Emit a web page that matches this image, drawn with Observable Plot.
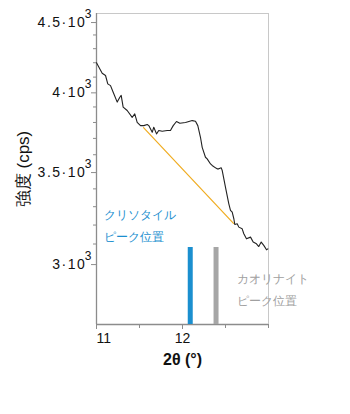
<!DOCTYPE html>
<html><head><meta charset="utf-8">
<script src="https://cdn.jsdelivr.net/npm/d3@7"></script>
<script src="https://cdn.jsdelivr.net/npm/@observablehq/plot@0.6"></script>
<style>
body{margin:0;background:#fff;}
#chart svg{font-family:"Liberation Sans",Arial,sans-serif;}
</style>
</head><body><div id="chart"></div>
<script>
// 2θ (°) and intensity (cps)
const twoTheta = [11.0, 11.066, 11.105, 11.131, 11.163, 11.194, 11.241, 11.271, 11.287, 11.31, 11.357, 11.415, 11.445, 11.473, 11.512, 11.55, 11.59, 11.608, 11.648, 11.666, 11.698, 11.724, 11.764, 11.822, 11.86, 11.892, 11.93, 11.969, 12.035, 12.113, 12.151, 12.178, 12.209, 12.229, 12.267, 12.287, 12.326, 12.345, 12.384, 12.403, 12.422, 12.45, 12.462, 12.5, 12.538, 12.558, 12.578, 12.597, 12.608, 12.636, 12.655, 12.694, 12.713, 12.744, 12.791, 12.822, 12.86, 12.887, 12.915, 12.945, 12.977, 12.992];
const intensity = [4200, 4127, 4111, 4054, 4042, 3997, 3932, 3964, 3976, 3899, 3877, 3833, 3855, 3801, 3780, 3780, 3787, 3780, 3738, 3770, 3728, 3749, 3745, 3749, 3749, 3780, 3806, 3795, 3800, 3812, 3808, 3780, 3707, 3645, 3585, 3575, 3545, 3536, 3522, 3516, 3516, 3522, 3506, 3409, 3317, 3280, 3270, 3234, 3203, 3207, 3189, 3180, 3154, 3127, 3136, 3110, 3101, 3087, 3110, 3093, 3070, 3075];
// baseline (orange)
const baselineX = [11.547, 12.593];
const baselineY = [3767, 3209];
// reference peak positions
const peakNames = ["クリソタイル", "カオリナイト"];
const peakX = [12.09, 12.39];
const peakTop = [3082, 3082];
// axes
const yDomain = [2709, 4561];
const xDomain = [11, 13];
const yTicks = [3000, 3500, 4000, 4500];
const yTickLabels = ["3·10³", "3.5·10³", "4·10³", "4.5·10³"];
const yMinorTicks = [3100, 3200, 3300, 3400, 3600, 3700, 3800, 3900, 4100, 4200, 4300, 4400];
const xTicks = [11, 12];
const xMinorTicks = [11.5, 12.5, 13];

const spectrum = twoTheta.map((x, i) => ({x, y: intensity[i]}));
const baseline = baselineX.map((x, i) => ({x, y: baselineY[i]}));
const peaks = peakX.map((x, i) => ({name: peakNames[i], x, top: peakTop[i]}));
const peakColors = ["#1b8fcf", "#a6a6a6"];
const yMin = yDomain[0];

const chart = Plot.plot({
  width: 350,
  height: 414,
  marginLeft: 96,
  marginRight: 82,
  marginTop: 13,
  marginBottom: 90,
  style: {fontFamily: "'Liberation Sans', Arial, sans-serif", background: "#fff"},
  x: {domain: xDomain},
  y: {type: "log", domain: yDomain},
  marks: [
    Plot.ruleY([yDomain[1]], {stroke: "#c8c8c8"}),
    Plot.ruleX([xDomain[1]], {stroke: "#c8c8c8"}),
    Plot.ruleX([xDomain[0]], {stroke: "#8c8c8c", strokeWidth: 1.3}),
    Plot.ruleY([yDomain[0]], {stroke: "#8c8c8c", strokeWidth: 1.3}),
    Plot.axisY(yTicks, {tickSize: 5, stroke: "#8c8c8c", tickFormat: d => yTickLabels[yTicks.indexOf(d)], fontSize: 14, fill: "#111", tickPadding: 0, dy: 1, label: "強度 (cps)", labelAnchor: "center", labelOffset: 80, labelArrow: false}),
    Plot.axisY(yMinorTicks, {tickSize: 3, stroke: "#8c8c8c", tickFormat: () => "", label: null}),
    Plot.axisX([xTicks[0]], {tickSize: 5, stroke: "#8c8c8c", tickFormat: d => String(d), fontSize: 14, fill: "#111", tickPadding: 4, textAnchor: "start", dx: 0, label: "2θ (°)", labelAnchor: "center", labelOffset: 40, labelArrow: false}),
    Plot.axisX(xTicks.slice(1), {tickSize: 5, stroke: "#8c8c8c", tickFormat: d => String(d), fontSize: 14, fill: "#111", tickPadding: 4, label: null}),
    Plot.axisX(xMinorTicks, {tickSize: 4, stroke: "#8c8c8c", tickFormat: () => "", label: null}),
    Plot.ruleX(peaks, {x: "x", y1: yMin, y2: "top", stroke: (d, i) => peakColors[i], strokeWidth: 5}),
    Plot.line(baseline, {x: "x", y: "y", stroke: "#f0ac20", strokeWidth: 1.2}),
    Plot.line(spectrum, {x: "x", y: "y", stroke: "#222", strokeWidth: 1.1}),
    Plot.text([peakNames[0]], {x: 11.09, y: 3252, text: d => d, textAnchor: "start", fill: "#1b8fcf", fontSize: 12}),
    Plot.text(["ピーク位置"], {x: 11.09, y: 3134, text: d => d, textAnchor: "start", fill: "#1b8fcf", fontSize: 12}),
    Plot.text([peakNames[1]], {x: 12.628, y: 2921, text: d => d, textAnchor: "start", fill: "#a0a0a0", fontSize: 12}),
    Plot.text(["ピーク位置"], {x: 12.628, y: 2815, text: d => d, textAnchor: "start", fill: "#a0a0a0", fontSize: 12})
  ]
});
document.getElementById("chart").appendChild(chart);
// style axis labels
d3.select(chart).selectAll("g[aria-label='x-axis label']").attr("font-weight", "bold").attr("font-size", 16).attr("fill", "#111");
d3.select(chart).selectAll("g[aria-label='y-axis label']").attr("font-size", 17).attr("fill", "#111");
// superscript exponent for y tick labels
d3.select(chart).selectAll("g[aria-label='y-axis tick label'] text").each(function() {
  const t = d3.select(this);
  const s = t.text();
  if (!s.includes("³")) return;
  const mant = s.replace("³", "");
  t.text(null);
  t.append("tspan").attr("letter-spacing", "1.5px").text(mant.slice(0, -1));
  t.append("tspan").text(mant.slice(-1));
  t.append("tspan").attr("dy", "-9").attr("font-size", 12).text("3");
});
</script>
</body></html>
